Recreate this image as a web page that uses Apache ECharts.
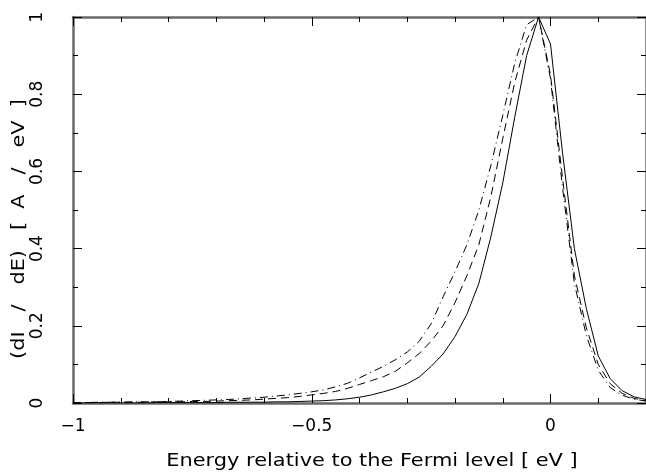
<!DOCTYPE html>
<html>
<head>
<meta charset="utf-8">
<script src="https://cdn.jsdelivr.net/npm/echarts@6/dist/echarts.min.js"></script>
<style>
  html, body { margin: 0; padding: 0; background: #fff; }
  #chart { width: 646px; height: 473px; }
</style>
</head>
<body>
<div id="chart"></div>
<script>
// Energy grid (eV, relative to the Fermi level)
const energy = [
  -1.000, -0.975, -0.950, -0.925, -0.900, -0.875, -0.850, -0.825, -0.800, -0.775,
  -0.750, -0.725, -0.700, -0.675, -0.650, -0.625, -0.600, -0.575, -0.550, -0.525,
  -0.500, -0.475, -0.450, -0.425, -0.400, -0.375, -0.350, -0.325, -0.300, -0.275,
  -0.250, -0.225, -0.200, -0.175, -0.150, -0.125, -0.100, -0.075, -0.050, -0.025,
   0.000,  0.025,  0.050,  0.075,  0.100,  0.125,  0.150,  0.175,  0.200
];

// Normalised energy distributions dI/dE
const curveSolid = [
  0.000, 0.000, 0.000, 0.000, 0.000, 0.000, 0.000, 0.001, 0.001, 0.001,
  0.001, 0.001, 0.001, 0.002, 0.002, 0.002, 0.002, 0.003, 0.003, 0.004,
  0.005, 0.006, 0.008, 0.011, 0.015, 0.021, 0.029, 0.038, 0.050, 0.067,
  0.095, 0.127, 0.172, 0.230, 0.310, 0.430, 0.570, 0.740, 0.900, 1.000,
  0.930, 0.650, 0.400, 0.245, 0.122, 0.063, 0.032, 0.016, 0.009
];
const curveDashed = [
  0.001, 0.001, 0.001, 0.002, 0.002, 0.002, 0.002, 0.003, 0.003, 0.003,
  0.004, 0.004, 0.005, 0.006, 0.007, 0.008, 0.010, 0.012, 0.014, 0.017,
  0.021, 0.025, 0.030, 0.038, 0.048, 0.058, 0.068, 0.082, 0.104, 0.128,
  0.160, 0.200, 0.260, 0.330, 0.410, 0.534, 0.685, 0.830, 0.940, 1.000,
  0.850, 0.585, 0.330, 0.195, 0.100, 0.050, 0.025, 0.012, 0.006
];
const curveDashDot = [
  0.001, 0.001, 0.002, 0.002, 0.002, 0.003, 0.003, 0.003, 0.004, 0.005,
  0.006, 0.007, 0.008, 0.009, 0.011, 0.013, 0.015, 0.018, 0.021, 0.025,
  0.029, 0.034, 0.042, 0.051, 0.065, 0.080, 0.095, 0.112, 0.132, 0.160,
  0.205, 0.275, 0.340, 0.410, 0.500, 0.615, 0.745, 0.880, 0.980, 1.000,
  0.840, 0.560, 0.310, 0.175, 0.085, 0.040, 0.020, 0.010, 0.005
];

const xLabels = ['\u22121', '\u22120.5', '0'];
const yLabels = ['0', '0.2', '0.4', '0.6', '0.8', '1'];
const xTitle = 'Energy relative to the Fermi level [ eV ]';
const yTitle = '(dI   /   dE)   [  A   /   eV  ]';

const FONT = 'DejaVu Sans';
const AXIS_COLOR = '#6a6a6a';
const X_MIN = -1, X_MAX = 0.2;

const pairs = ys => energy.map((e, i) => [e, ys[i]]);

function xLabelFor(v) {
  const k = Math.round(v * 10);
  if (k === -10) return xLabels[0];
  if (k === -5) return xLabels[1];
  if (k === 0) return xLabels[2];
  return '';
}
function yLabelFor(v) {
  const k = Math.round(v * 10);
  return (k % 2 === 0) ? yLabels[k / 2] : '';
}

const frameLine = { show: true, onZero: false, lineStyle: { color: AXIS_COLOR, width: 2.5 } };
const noLine = { show: false, onZero: false };
const tick = (len) => ({ show: true, inside: true, length: len, lineStyle: { color: '#000', width: 1 } });

const baseX = { type: 'value', min: X_MIN, max: X_MAX, splitLine: { show: false } };
const baseY = { type: 'value', min: 0, max: 1, splitLine: { show: false } };

const chart = echarts.init(document.getElementById('chart'), null, { renderer: 'canvas' });
chart.setOption({
  animation: false,
  backgroundColor: '#fff',
  grid: { left: 73, top: 17, width: 579, height: 386, containLabel: false },
  xAxis: [
    // bottom: labels and short ticks every 0.1
    Object.assign({}, baseX, {
      position: 'bottom', interval: 0.1, axisLine: frameLine, axisTick: tick(5),
      axisLabel: {
        show: true, margin: 15, color: '#000', fontFamily: FONT, fontSize: 17,
        showMaxLabel: false, formatter: xLabelFor
      }
    }),
    // bottom: long ticks every 0.5
    Object.assign({}, baseX, {
      position: 'bottom', interval: 0.5, axisLine: noLine, axisTick: tick(9),
      axisLabel: { show: false }
    }),
    // top frame
    Object.assign({}, baseX, {
      position: 'top', interval: 0.1, axisLine: frameLine, axisTick: tick(5),
      axisLabel: { show: false }
    }),
    Object.assign({}, baseX, {
      position: 'top', interval: 0.5, axisLine: noLine, axisTick: tick(9),
      axisLabel: { show: false }
    })
  ],
  yAxis: [
    Object.assign({}, baseY, {
      position: 'left', interval: 0.1, axisLine: frameLine, axisTick: tick(5),
      axisLabel: {
        show: true, rotate: 90, margin: 27, color: '#000', fontFamily: FONT, fontSize: 17,
        formatter: yLabelFor
      }
    }),
    Object.assign({}, baseY, {
      position: 'left', interval: 0.2, axisLine: noLine, axisTick: tick(9),
      axisLabel: { show: false }
    }),
    Object.assign({}, baseY, {
      position: 'right', interval: 0.1, axisLine: frameLine, axisTick: tick(5),
      axisLabel: { show: false }
    }),
    Object.assign({}, baseY, {
      position: 'right', interval: 0.2, axisLine: noLine, axisTick: tick(9),
      axisLabel: { show: false }
    })
  ],
  graphic: [
    {
      type: 'text', x: 372, y: 461, scaleX: 1.16,
      style: {
        text: xTitle, fill: '#000', font: '18px "' + FONT + '"',
        textAlign: 'center', textVerticalAlign: 'middle'
      }
    },
    {
      // rotated title, stretched along its reading direction
      type: 'text', x: 19, y: 229, rotation: Math.PI / 2, scaleX: 1.16,
      style: {
        text: yTitle, fill: '#000', font: '18px "' + FONT + '"',
        textAlign: 'center', textVerticalAlign: 'middle'
      }
    }
  ],
  series: [
    {
      type: 'line', name: 'solid', data: pairs(curveSolid),
      xAxisIndex: 0, yAxisIndex: 0, showSymbol: false, symbol: 'none',
      lineStyle: { color: '#000', width: 1, type: 'solid' }
    },
    {
      type: 'line', name: 'dashed', data: pairs(curveDashed),
      xAxisIndex: 0, yAxisIndex: 0, showSymbol: false, symbol: 'none',
      lineStyle: { color: '#000', width: 1, type: [8, 5] }
    },
    {
      type: 'line', name: 'dashdot', data: pairs(curveDashDot),
      xAxisIndex: 0, yAxisIndex: 0, showSymbol: false, symbol: 'none',
      lineStyle: { color: '#000', width: 1, type: [8, 4, 1, 4] }
    }
  ]
});
</script>
</body>
</html>
